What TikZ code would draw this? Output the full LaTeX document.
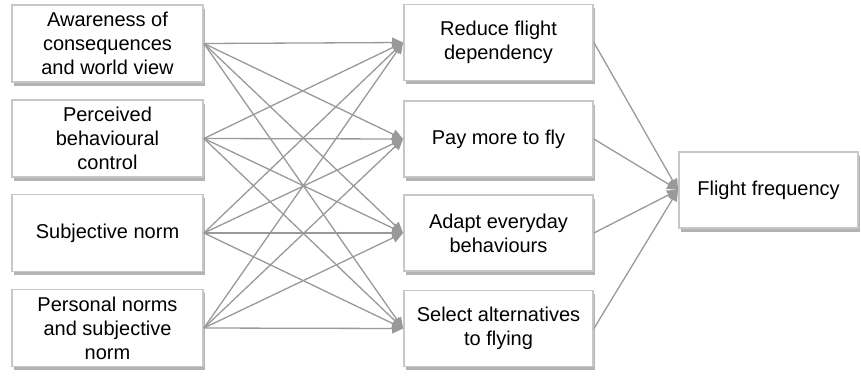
\documentclass[tikz,border=0pt]{standalone}
\usepackage{fontspec}
\setmainfont{Liberation Sans}
\usetikzlibrary{shadows,arrows.meta}

\begin{document}
\begin{tikzpicture}[x=0.5pt,y=-0.5pt,
box/.style={draw=black!22,line width=0.9pt,fill=white,align=center,inner sep=0pt,
  drop shadow={shadow xshift=1.2pt,shadow yshift=-1.8pt,fill=black!50,opacity=0.6}},
srcbox/.style={box,minimum width=95.5pt,minimum height=38.5pt},
midbox/.style={box,minimum width=94.5pt,minimum height=38pt},
outbox/.style={box,minimum width=89.5pt,minimum height=38pt},
link/.style={draw=black!40,line width=0.65pt,-{Triangle[length=5.5pt,width=5pt]}}
]
\useasboundingbox (0,0) rectangle (861,376);

% determinants
\node[srcbox] (aware) at (107.5,43.5) {Awareness of\\consequences\\and world view};
\node[srcbox] (pbc) at (107.5,138.5) {Perceived\\behavioural\\control};
\node[srcbox] (subj) at (107.5,233) {Subjective norm};
\node[srcbox] (pers) at (107.5,328) {Personal norms\\and subjective\\norm};

% intentions
\node[midbox] (reduce) at (498.5,42.5) {Reduce flight\\dependency};
\node[midbox] (pay) at (498.5,139) {Pay more to fly};
\node[midbox] (adapt) at (498.5,233) {Adapt everyday\\behaviours};
\node[midbox] (select) at (498.5,328.5) {Select alternatives\\to flying};

% outcome
\node[outbox] (freq) at (768.5,190) {Flight frequency};

\foreach \s in {aware,pbc,subj,pers}
  \foreach \t in {reduce,pay,adapt,select}
    \draw[link] (\s.east) -- (\t.west);
\foreach \t in {reduce,pay,adapt,select}
  \draw[link] (\t.east) -- (freq.west);
\end{tikzpicture}
\end{document}
